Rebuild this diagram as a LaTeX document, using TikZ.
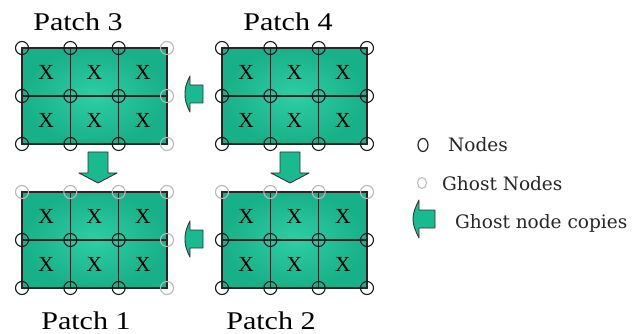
\documentclass[tikz,border=0pt]{standalone}
\usepackage{fontspec}
\usetikzlibrary{shapes.geometric}
\setmainfont{Liberation Serif}
\newfontfamily\patchfont[FakeStretch=1.18]{Liberation Serif}
\newfontfamily\legendfont{DejaVu Serif}
\definecolor{patchgreen}{RGB}{26,186,144}
\definecolor{patchlight}{RGB}{46,206,164}
\definecolor{patchdark}{RGB}{24,176,136}
\definecolor{ghostgray}{RGB}{185,185,185}
\tikzset{
  gridline/.style={draw=black!85, line width=1.5pt},
  nd/.style={circle, draw=black!90, line width=1.1pt, minimum size=13pt, inner sep=0pt},
  ghostnd/.style={nd, draw=ghostgray},
  xlab/.style={font=\fontsize{21.5}{21.5}\selectfont, inner sep=0pt},
  plabel/.style={font=\patchfont\fontsize{25.5}{25.5}\selectfont, anchor=base, inner sep=0pt},
  legtext/.style={font=\legendfont\fontsize{18.5}{18.5}\selectfont, anchor=base west, inner sep=0pt, text=black!85},
  blockarrow/.style={fill=patchgreen, draw=black!80, line width=0.9pt, line join=round}
}
\newcommand\drawpatch[5]{%
  \shade[inner color=patchlight, outer color=patchdark] (#2,#3) rectangle ++(145,96);
  \draw[gridline] (#2,#3) rectangle ++(145,96);
  \draw[gridline] (#2,#3+48) -- ++(145,0);
  \foreach \i in {1,2} \draw[gridline] (#2+\i*48.33,#3) -- ++(0,96);
  \foreach \i in {0,1,2} \foreach \j in {0,1}
    \node[xlab] (#1-x-\i-\j) at (#2+24.17+\i*48.33, #3+24+\j*48) {X};
  \foreach \i in {0,...,3} \foreach \j in {0,1,2} {
    \pgfmathtruncatemacro\g{((#4==1) && (\i==3)) || ((#5==1) && (\j==0))}
    \ifnum\g=1
      \node[ghostnd] (#1-\i-\j) at (#2+\i*48.33, #3+\j*48) {};
    \else
      \node[nd] (#1-\i-\j) at (#2+\i*48.33, #3+\j*48) {};
    \fi
  }%
}
\begin{document}
\begin{tikzpicture}[x=1pt,y=-1pt]
\useasboundingbox[fill=white] (0,0) rectangle (640,334);

% patches
\drawpatch{pthree}{22}{48}{1}{0}
\drawpatch{pfour}{222}{48}{0}{0}
\drawpatch{pone}{22}{192}{1}{1}
\drawpatch{ptwo}{222}{192}{0}{1}

% labels
\node[plabel] (lab3) at (78,31) {Patch 3};
\node[plabel] (lab4) at (288,31) {Patch 4};
\node[plabel] (lab1) at (86,329) {Patch 1};
\node[plabel] (lab2) at (271,329) {Patch 2};

% left arrows (ghost node copies)
\draw[blockarrow] (203,85) -- (190,85) -- (190,76) .. controls (186,84) and (185,88) .. (185,94)
  .. controls (185,100) and (186,104) .. (190,112) -- (190,103) -- (203,103) -- cycle;
\draw[blockarrow] (203,230) -- (190,230) -- (190,221) .. controls (186,229) and (185,233) .. (185,239)
  .. controls (185,245) and (186,249) .. (190,257) -- (190,248) -- (203,248) -- cycle;

% down arrows
\draw[blockarrow] (88,152) -- (108,152) -- (108,173) -- (117,173) -- (98,183) -- (79,173) -- (88,173) -- cycle;
\draw[blockarrow] (280,152) -- (300,152) -- (300,173) -- (309,173) -- (290,183) -- (271,173) -- (280,173) -- cycle;

% legend
\node[ellipse, draw=black!85, line width=1.2pt, minimum width=10pt, minimum height=13pt, inner sep=0pt] (legnode) at (423,145) {};
\node[legtext] (legnodetext) at (448,152) {Nodes};
\node[ellipse, draw=ghostgray, line width=1pt, minimum width=9pt, minimum height=11pt, inner sep=0pt] (legghost) at (422,183) {};
\node[legtext] (legghosttext) at (442,190) {Ghost Nodes};
\draw[blockarrow] (435,210) -- (419,210) -- (419,200) .. controls (415,208) and (413,213) .. (413,219)
  .. controls (413,225) and (415,230) .. (419,238) -- (419,228) -- (435,228) -- cycle;
\node[legtext] (legcopytext) at (455,228) {Ghost node copies};
\end{tikzpicture}
\end{document}
